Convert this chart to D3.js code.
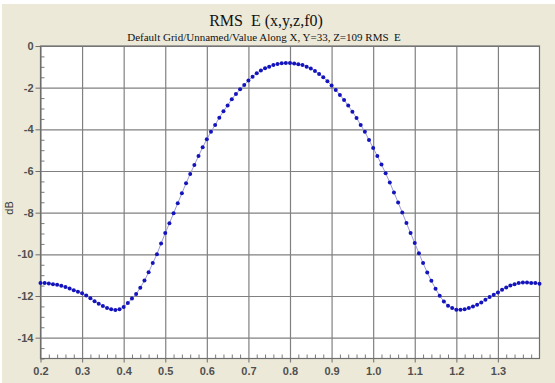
<!DOCTYPE html>
<html>
<head>
<meta charset="utf-8">
<script src="https://cdnjs.cloudflare.com/ajax/libs/d3/7.8.5/d3.min.js"></script>
<style>
    body { margin: 0; background: #fff; }
    svg { display: block; }
    .tick text { font-family: "Liberation Sans", Arial, sans-serif; font-size: 11px; font-weight: bold; fill: #505050; }
</style>
</head>
<body>
<div id="chart"></div>
<script>
// Sample positions along X
var xPos = [
    0.20, 0.21, 0.22, 0.23, 0.24, 0.25, 0.26, 0.27, 0.28, 0.29,
    0.30, 0.31, 0.32, 0.33, 0.34, 0.35, 0.36, 0.37, 0.38, 0.39,
    0.40, 0.41, 0.42, 0.43, 0.44, 0.45, 0.46, 0.47, 0.48, 0.49,
    0.50, 0.51, 0.52, 0.53, 0.54, 0.55, 0.56, 0.57, 0.58, 0.59,
    0.60, 0.61, 0.62, 0.63, 0.64, 0.65, 0.66, 0.67, 0.68, 0.69,
    0.70, 0.71, 0.72, 0.73, 0.74, 0.75, 0.76, 0.77, 0.78, 0.79,
    0.80, 0.81, 0.82, 0.83, 0.84, 0.85, 0.86, 0.87, 0.88, 0.89,
    0.90, 0.91, 0.92, 0.93, 0.94, 0.95, 0.96, 0.97, 0.98, 0.99,
    1.00, 1.01, 1.02, 1.03, 1.04, 1.05, 1.06, 1.07, 1.08, 1.09,
    1.10, 1.11, 1.12, 1.13, 1.14, 1.15, 1.16, 1.17, 1.18, 1.19,
    1.20, 1.21, 1.22, 1.23, 1.24, 1.25, 1.26, 1.27, 1.28, 1.29,
    1.30, 1.31, 1.32, 1.33, 1.34, 1.35, 1.36, 1.37, 1.38, 1.39,
    1.40
];

// RMS E in dB
var rmsDb = [
    -11.38, -11.38, -11.40, -11.43, -11.46, -11.51, -11.57, -11.64, -11.72, -11.79,
    -11.87, -11.98, -12.11, -12.25, -12.37, -12.48, -12.58, -12.64, -12.67, -12.63,
    -12.53, -12.34, -12.12, -11.90, -11.60, -11.26, -10.86, -10.42, -9.99, -9.48,
    -8.98, -8.51, -8.03, -7.55, -7.07, -6.59, -6.14, -5.71, -5.28, -4.86,
    -4.48, -4.11, -3.79, -3.44, -3.13, -2.85, -2.56, -2.30, -2.08, -1.87,
    -1.66, -1.47, -1.31, -1.18, -1.07, -0.99, -0.91, -0.86, -0.83, -0.82,
    -0.82, -0.84, -0.87, -0.91, -0.99, -1.08, -1.20, -1.34, -1.50, -1.69,
    -1.90, -2.11, -2.35, -2.59, -2.86, -3.15, -3.45, -3.79, -4.12, -4.51,
    -4.89, -5.28, -5.69, -6.11, -6.55, -7.03, -7.51, -7.99, -8.50, -8.98,
    -9.46, -9.95, -10.42, -10.87, -11.27, -11.65, -11.99, -12.26, -12.47, -12.58,
    -12.66, -12.66, -12.63, -12.58, -12.50, -12.42, -12.31, -12.18, -12.05, -11.94,
    -11.83, -11.70, -11.59, -11.50, -11.43, -11.38, -11.35, -11.35, -11.37, -11.38,
    -11.41
];

// Tick values
var xMajor = [0.2, 0.3, 0.4, 0.5, 0.6, 0.7, 0.8, 0.9, 1.0, 1.1, 1.2, 1.3];
var xLabels = ['0.2', '0.3', '0.4', '0.5', '0.6', '0.7', '0.8', '0.9', '1.0', '1.1', '1.2', '1.3'];
var xMinor = [];
var yMajor = [0, -2, -4, -6, -8, -10, -12, -14];
var yMinor = [];

var titleText = 'RMS  E (x,y,z,f0)';
var subtitleText = 'Default Grid/Unnamed/Value Along X, Y=33, Z=109 RMS  E';
var yTitle = 'dB';

// minor tick positions (every 0.02 on x, 0.5 dB on y)
for (var i = 0; i <= 60; i++) {
    if (i % 5 !== 0) xMinor.push(+(0.2 + i * 0.02).toFixed(2));
}
for (var j = 0; j <= 30; j++) {
    if (j % 4 !== 0) yMinor.push(-j * 0.5);
}

var width = 555, height = 383;
var plot = { left: 40.5, right: 539.5, top: 46, bottom: 358.5 };

var svg = d3.select('#chart')
            .append('svg')
            .attr('width', width)
            .attr('height', height);

// window background
svg.append('rect')
    .attr('x', 2)
    .attr('y', 4)
    .attr('width', width - 2)
    .attr('height', height - 4)
    .style('fill', '#ece9d8');

var x = d3.scaleLinear().domain([0.2, 1.4]).range([plot.left, plot.right]);
var y = d3.scaleLinear().domain([-15, 0]).range([plot.bottom, plot.top]);

svg.append('rect')
    .attr('x', plot.left)
    .attr('y', plot.top)
    .attr('width', plot.right - plot.left)
    .attr('height', plot.bottom - plot.top)
    .style('fill', '#fff');

// grid lines (vertical ones run a little below the frame)
var gridX = svg.append('g')
    .attr('transform', 'translate(0,' + (plot.bottom + 4) + ')')
    .call(d3.axisBottom(x).tickValues(xMajor).tickSize(-(plot.bottom - plot.top) - 4).tickFormat(''));

var gridY = svg.append('g')
    .attr('transform', 'translate(' + plot.left + ',0)')
    .call(d3.axisLeft(y).tickValues(yMajor).tickSize(-(plot.right - plot.left)).tickFormat(''));

[gridX, gridY].forEach(function (g) {
    g.select('.domain').remove();
    g.selectAll('line').style('stroke', '#808080').style('stroke-width', 1.2);
});

// minor ticks, drawn inside the frame
var minorX = svg.append('g')
    .attr('transform', 'translate(0,' + plot.bottom + ')')
    .call(d3.axisBottom(x).tickValues(xMinor).tickSize(-4).tickFormat(''));
var minorY = svg.append('g')
    .attr('transform', 'translate(' + plot.left + ',0)')
    .call(d3.axisLeft(y).tickValues(yMinor).tickSize(-4).tickFormat(''));
[minorX, minorY].forEach(function (g) {
    g.select('.domain').remove();
    g.selectAll('line').style('stroke', '#7a7a7a');
});

// major axes with labels
var axisX = svg.append('g')
    .attr('transform', 'translate(0,' + plot.bottom + ')')
    .call(d3.axisBottom(x).tickValues(xMajor).tickSize(0).tickPadding(9)
        .tickFormat(function (d, i) { return xLabels[i]; }));
var axisY = svg.append('g')
    .attr('transform', 'translate(' + plot.left + ',0)')
    .call(d3.axisLeft(y).tickValues(yMajor).tickSize(5).tickPadding(2).tickFormat(d3.format('d')));
[axisX, axisY].forEach(function (g) {
    g.select('.domain').remove();
    g.selectAll('line').style('stroke', '#6e6e6e');
});
axisY.selectAll('text').text(function (d) { return d === 0 ? '0' : '-' + Math.abs(d); });

// frame
svg.append('rect')
    .attr('x', plot.left)
    .attr('y', plot.top)
    .attr('width', plot.right - plot.left)
    .attr('height', plot.bottom - plot.top)
    .style('fill', 'none')
    .style('stroke', '#6e6e6e')
    .style('stroke-width', 1.2);

// series: thin line + dots
var points = xPos.map(function (v, i) { return { x: v, y: rmsDb[i] }; });

svg.append('path')
    .datum(points)
    .attr('d', d3.line().x(function (d) { return x(d.x); }).y(function (d) { return y(d.y); }))
    .style('fill', 'none')
    .style('stroke', '#9a9ad8')
    .style('stroke-width', 1);

svg.append('g')
    .selectAll('circle')
    .data(points)
    .enter()
    .append('circle')
    .attr('cx', function (d) { return x(d.x); })
    .attr('cy', function (d) { return y(d.y); })
    .attr('r', 2)
    .style('fill', '#1414bc');

// titles
svg.append('text')
    .attr('x', 266)
    .attr('y', 26)
    .attr('text-anchor', 'middle')
    .style('white-space', 'pre')
    .style('font-family', '"Liberation Serif", "Times New Roman", serif')
    .style('font-size', '16px')
    .style('fill', '#111')
    .text(titleText);

svg.append('text')
    .attr('x', 264)
    .attr('y', 41)
    .attr('text-anchor', 'middle')
    .style('white-space', 'pre')
    .style('font-family', '"Liberation Serif", "Times New Roman", serif')
    .style('font-size', '11px')
    .style('fill', '#111')
    .text(subtitleText);

svg.append('text')
    .attr('transform', 'translate(13,208) rotate(-90)')
    .attr('text-anchor', 'middle')
    .style('font-family', '"Liberation Sans", Arial, sans-serif')
    .style('font-size', '11px')
    .style('fill', '#3a3a3a')
    .text(yTitle);
</script>
</body>
</html>
